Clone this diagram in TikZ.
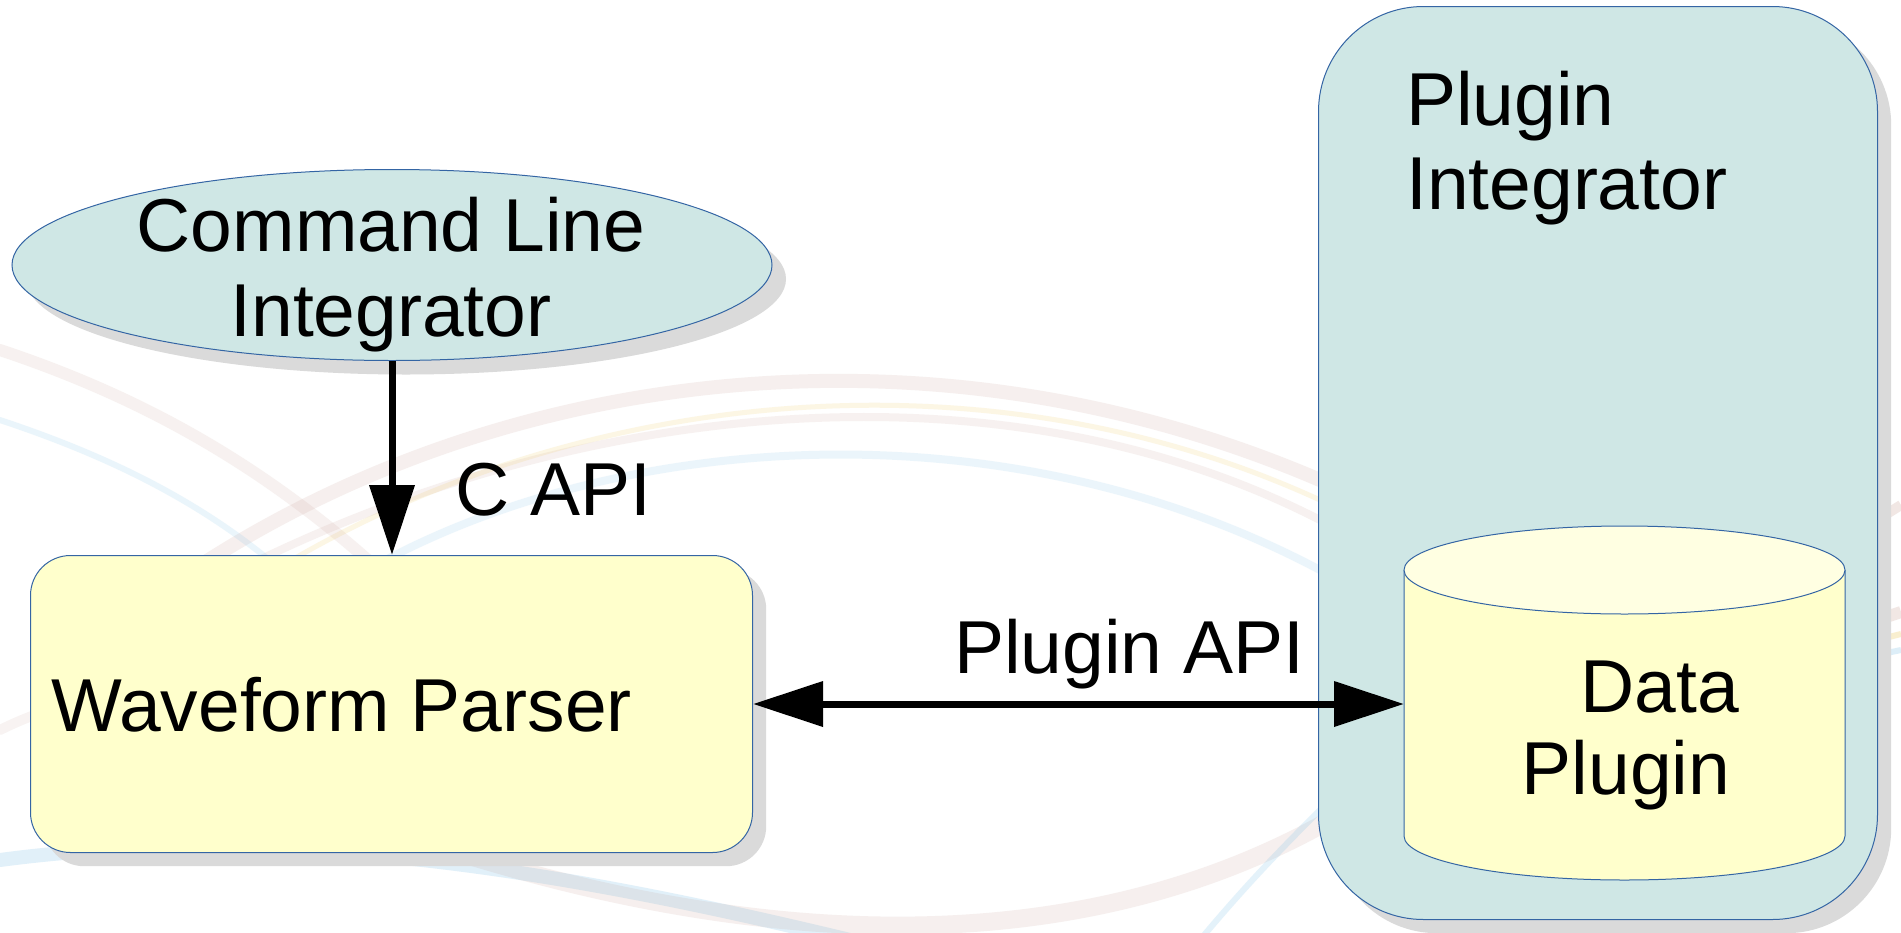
\documentclass[tikz,border=0pt]{standalone}
\usepackage{fontspec}
\setmainfont{Liberation Sans}
\usetikzlibrary{arrows.meta,shapes.geometric}
\definecolor{tealfill}{RGB}{207,231,229}
\definecolor{yelfill}{RGB}{255,255,204}
\definecolor{yeltop}{RGB}{255,255,226}
\definecolor{edge}{RGB}{52,101,164}
\definecolor{shade}{RGB}{218,218,218}
\definecolor{swpink}{RGB}{200,160,150}
\definecolor{swblue}{RGB}{120,190,230}
\definecolor{swyel}{RGB}{240,210,120}
\begin{document}
\begin{tikzpicture}[x=1pt,y=-1pt,
  lbl/.style={font=\fontsize{75}{86}\selectfont, inner sep=0pt, text=black},
  outline/.style={draw=edge, line width=1pt},
  shadowshape/.style={fill=shade, draw=none},
  conn/.style={line width=7pt, draw=black},
  bigtip/.style={-{Triangle[length=70pt,width=44pt]}},
  swirl/.style={line cap=round}]
\useasboundingbox (0,0) rectangle (1901,932);
\fill[white] (0,0) rectangle (1901,932);
% background swirls
\draw[swirl, swpink, line width=14pt, opacity=.16] (150,600) .. controls (450,380) and (900,300) .. (1320,480);
\draw[swirl, swpink, line width=8pt, opacity=.14] (100,650) .. controls (450,420) and (950,330) .. (1320,520);
\draw[swirl, swyel, line width=5pt, opacity=.2] (200,620) .. controls (500,400) and (950,330) .. (1320,500);
\draw[swirl, swblue, line width=8pt, opacity=.14] (350,580) .. controls (600,430) and (1000,400) .. (1320,570);
\draw[swirl, swpink, line width=12pt, opacity=.14] (0,350) .. controls (150,400) and (300,480) .. (450,640);
\draw[swirl, swblue, line width=6pt, opacity=.15] (0,420) .. controls (120,460) and (250,520) .. (350,640);
\draw[swirl, swpink, line width=10pt, opacity=.12] (0,730) .. controls (60,700) and (120,690) .. (200,700);
\draw[swirl, swblue, line width=14pt, opacity=.22] (0,860) .. controls (300,820) and (600,880) .. (850,940);
\draw[swirl, swpink, line width=18pt, opacity=.16] (450,850) .. controls (800,960) and (1100,950) .. (1330,820);
\draw[swirl, swblue, line width=6pt, opacity=.2] (1200,940) .. controls (1250,880) and (1290,840) .. (1330,800);
\draw[swpink, line width=12pt, opacity=.25] (1877,620) -- (1901,612);
\draw[swyel, line width=6pt, opacity=.35] (1877,640) -- (1901,634);
\draw[swblue, line width=6pt, opacity=.25] (1877,655) -- (1901,650);
\draw[swpink, line width=10pt, opacity=.25] (1877,520) -- (1901,505);
% shadows
\node[ellipse, shadowshape, minimum width=760pt, minimum height=191pt, inner sep=0pt] (clish) at (406,279) {};
\node[rectangle, rounded corners=40pt, shadowshape, minimum width=722pt, minimum height=297pt, anchor=north west, inner sep=0pt] (wpsh) at (44,569) {};
\node[rectangle, rounded corners=105pt, shadowshape, minimum width=559pt, minimum height=913pt, anchor=north west, inner sep=0pt] (pish) at (1332,20) {};
% shapes
\node[ellipse, outline, fill=tealfill, minimum width=760pt, minimum height=191pt, inner sep=0pt] (cli) at (392,265) {};
\node[rectangle, rounded corners=40pt, outline, fill=yelfill, minimum width=722pt, minimum height=297pt, anchor=north west, inner sep=0pt] (wp) at (30,555) {};
\node[rectangle, rounded corners=105pt, outline, fill=tealfill, minimum width=559pt, minimum height=913pt, anchor=north west, inner sep=0pt] (pi) at (1318,6) {};
% cylinder
\fill[yelfill] (1404,570) -- (1404,836) arc[start angle=180, end angle=360, x radius=220.5pt, y radius=44pt] -- (1845,570) -- cycle;
\draw[outline] (1404,570) -- (1404,836) arc[start angle=180, end angle=360, x radius=220.5pt, y radius=44pt] -- (1845,570);
\filldraw[outline, fill=yeltop] (1624.5,570) ellipse[x radius=220.5pt, y radius=44pt];
\node[rectangle, inner sep=0pt, minimum width=441pt, minimum height=266pt, anchor=north west] (dp) at (1404,570) {};
% connectors
\draw[conn, bigtip] (cli.south) -- (cli.south |- wp.north);
\draw[conn, {Triangle[length=70pt,width=44pt]}-{Triangle[length=70pt,width=44pt]}] (wp.east) -- (wp.east -| dp.west);
% labels
\node[lbl, anchor=base] (t1) at (391,251) {Command Line};
\node[lbl, anchor=base] (t2) at (391,336) {Integrator};
\node[lbl, anchor=base west] (t3) at (455,515) {C API};
\node[lbl, anchor=base west] (t4) at (51,731) {Waveform Parser};
\node[lbl, anchor=base west] (t5) at (954,673) {Plugin API};
\node[lbl, anchor=base west] (t6) at (1406,125) {Plugin};
\node[lbl, anchor=base west] (t7) at (1406,209) {Integrator};
\node[lbl, anchor=base] (t8) at (1660,712) {Data};
\node[lbl, anchor=base] (t9) at (1626,794) {Plugin};
\end{tikzpicture}
\end{document}
